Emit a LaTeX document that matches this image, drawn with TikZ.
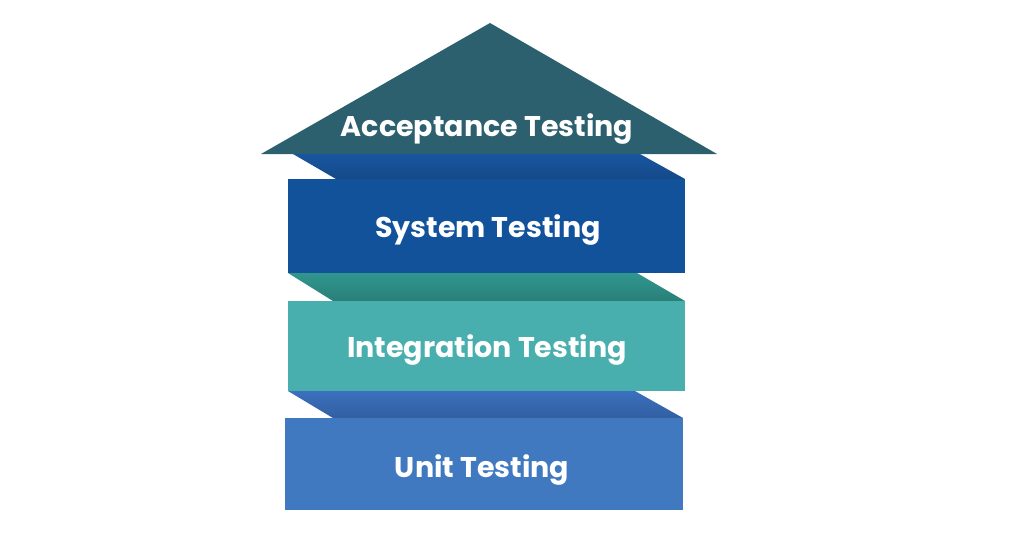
\documentclass[tikz,border=0pt]{standalone}
\usepackage{fontspec}
\setmainfont{Poppins}
\definecolor{accC}{RGB}{44,96,110}
\definecolor{sysC}{RGB}{18,82,155}
\definecolor{sysB}{RGB}{24,86,160}
\definecolor{intB}{RGB}{48,150,142}
\definecolor{intC}{RGB}{72,174,174}
\definecolor{unitB}{RGB}{58,112,190}
\definecolor{unitC}{RGB}{64,121,192}
\tikzset{
  lbl/.style={text=white, font=\fontsize{28.5}{32}\selectfont\bfseries, inner sep=0pt},
  band/.style={shading=axis, shading angle=0}
}
\begin{document}
\begin{tikzpicture}[x=1pt,y=-1pt]
\fill[white] (0,0) rectangle (1024,536);
\useasboundingbox (0,0) rectangle (1024,536);
% roof
\fill[accC] (490,23) -- (717,154) -- (261,154) -- cycle;
% band 1
\shade[band, top color=sysB, middle color=sysB, bottom color=sysB!85!black] (293,154) -- (640,154) -- (685,179) -- (336,179) -- cycle;
\fill[sysC] (288,179) rectangle (685,273);
% band 2
\shade[band, top color=intB, middle color=intB, bottom color=intB!85!black] (288,273) -- (637,273) -- (685,301) -- (333,301) -- cycle;
\fill[intC] (288,301) rectangle (685,391);
% band 3
\shade[band, top color=unitB, middle color=unitB, bottom color=unitB!85!black] (288,391) -- (635,391) -- (683,418) -- (333,418) -- cycle;
\fill[unitC] (285,418) rectangle (683,510);
% labels
\node[lbl] (acc) at (487,129) {Acceptance Testing};
\node[lbl] (sys) at (488,230) {System Testing};
\node[lbl] (int) at (487,350) {Integration Testing};
\node[lbl] (unit) at (482,470) {Unit Testing};
\end{tikzpicture}
\end{document}
